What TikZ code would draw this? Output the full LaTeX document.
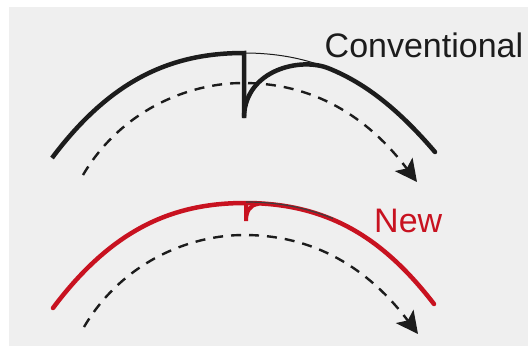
\documentclass[tikz,border=0pt]{standalone}
\usepackage{fontspec}
\setmainfont{Liberation Sans}
\usetikzlibrary{arrows.meta}
\definecolor{panel}{RGB}{239,239,239}
\definecolor{ink}{RGB}{28,28,28}
\definecolor{newred}{RGB}{200,18,32}
\begin{document}
\begin{tikzpicture}[x=1pt,y=-1pt,
  arcline/.style={line width=4.5pt, line cap=round},
  thinline/.style={line width=1pt},
  dashedarrow/.style={line width=2.4pt, dash pattern=on 10pt off 8pt, -{Stealth[length=22pt,width=22pt,inset=5pt]}},
  lbl/.style={font=\fontsize{34}{40}\selectfont, inner sep=0pt, anchor=base west}]
\useasboundingbox (0,0) rectangle (528,346);
\fill[white] (0,0) rectangle (528,346);
\fill[panel] (9,7) rectangle (528,346);

% conventional
\draw[thinline, ink] (244,53) .. controls (275,53) and (302.8,57.9) .. (328.3,68.2);
\draw[arcline, ink, line cap=butt] (52,158) .. controls (112,78) and (173,53) .. (244,53) -- (244,118);
\draw[arcline, ink] (244,116) .. controls (246,70) and (300,57) .. (328.3,68.2) .. controls (366.6,83.5) and (399.9,111) .. (435,152);
\draw[dashedarrow, ink] (83,175) .. controls (121,110.5) and (188,83) .. (243,83) .. controls (313,83) and (367,116) .. (417,182);
\node[lbl, text=ink] (conv) at (324.5,57) {Conventional};

% new
\begin{scope}[shift={(1,150)}]
\draw[arcline, newred] (52,158) .. controls (112,78) and (173,53) .. (244,53) .. controls (275,53) and (302.8,57.9) .. (328.3,68.2) .. controls (366.6,83.5) and (399.9,111) .. (433,154);
\draw[line width=4pt, newred, line cap=round] (245,55) -- (245,71) .. controls (245,61) and (249,55) .. (257,54);
\draw[line width=1.2pt, ink!85] (245,52) .. controls (276,52) and (303,57) .. (332,68.5);
\draw[dashedarrow, ink] (83,177) .. controls (121,112.5) and (188,85) .. (243,85) .. controls (313,85) and (367,118) .. (417,184);
\end{scope}
\node[lbl, text=newred] (new) at (374,232) {New};
\end{tikzpicture}
\end{document}
